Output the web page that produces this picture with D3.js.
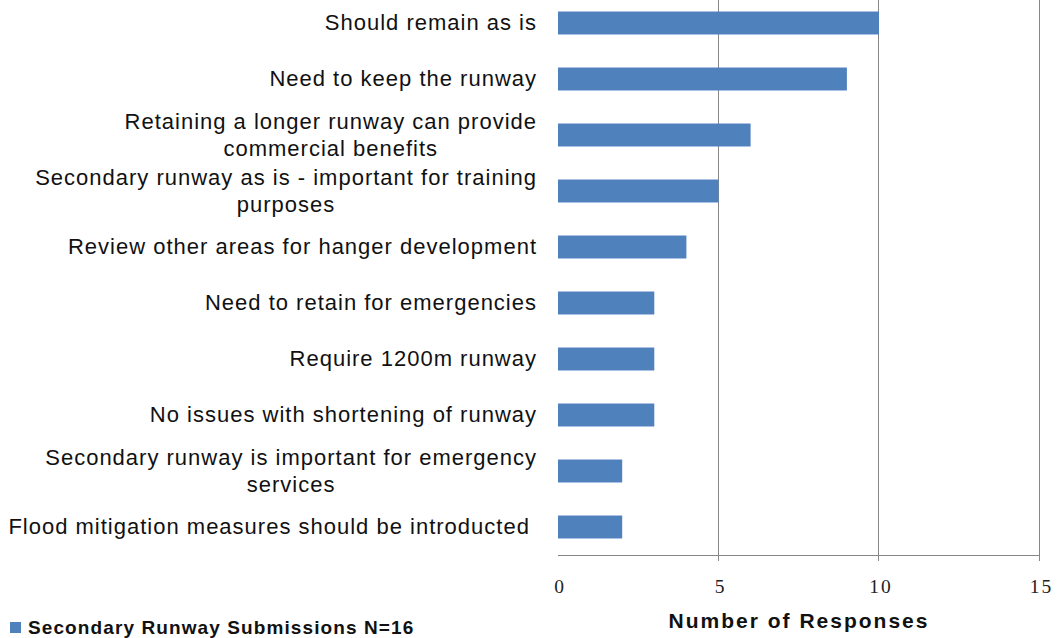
<!DOCTYPE html>
<html>
<head>
<meta charset="utf-8">
<script src="https://cdn.jsdelivr.net/npm/d3@7"></script>
<style>
  html, body { margin: 0; padding: 0; background: #fff; }
  svg { display: block; font-family: "Liberation Sans", Arial, sans-serif; }
</style>
</head>
<body>
<svg id="chart" width="1057" height="638"></svg>
<script>
// Response categories (top to bottom) and their counts
const categories = [
  "Should remain as is",
  "Need to keep the runway",
  "Retaining a longer runway can provide|commercial benefits",
  "Secondary runway as is - important for training|purposes",
  "Review other areas for hanger development",
  "Need to retain for emergencies",
  "Require 1200m runway",
  "No issues with shortening of runway",
  "Secondary runway is important for emergency|services",
  "Flood mitigation measures should be introducted "
];
const responses = [10, 9, 6, 5, 4, 3, 3, 3, 2, 2];
const xTicks = [0, 5, 10, 15];
const seriesName = "Secondary Runway Submissions N=16";
const axisTitle = "Number of Responses";

const svg = d3.select("#chart");
const plot = { left: 558, right: 1039.5, top: -5, bottom: 555 };

const x = d3.scaleLinear().domain([0, 15]).range([plot.left, plot.right]);
const y = d3.scaleBand().domain(categories).range([plot.top, plot.bottom]).paddingInner(0.59).paddingOuter(0.295);

// vertical gridlines
svg.append("g").selectAll("line").data(xTicks.filter(d => d > 0)).join("line")
  .attr("x1", d => Math.round(x(d)) - 0.5).attr("x2", d => Math.round(x(d)) - 0.5)
  .attr("y1", 0).attr("y2", plot.bottom + 6)
  .attr("stroke", "#878787").attr("stroke-width", 1);

// bars
svg.append("g").selectAll("rect").data(categories).join("rect")
  .attr("x", x(0))
  .attr("y", d => y(d))
  .attr("width", (d, i) => x(responses[i]) - x(0))
  .attr("height", y.bandwidth())
  .attr("fill", "#4F81BD");

// x axis line
svg.append("line")
  .attr("x1", x(0)).attr("x2", plot.right)
  .attr("y1", plot.bottom + 0.5).attr("y2", plot.bottom + 0.5)
  .attr("stroke", "#878787");

// tick labels
svg.append("g").selectAll("text").data(xTicks).join("text")
  .attr("x", d => x(d) + 2)
  .attr("y", 593)
  .attr("text-anchor", "middle")
  .attr("font-family", "'Liberation Serif', 'Times New Roman', serif")
  .attr("font-size", 19.5)
  .attr("letter-spacing", 2)
  .attr("fill", "#222")
  .text(d => d);

// axis title
svg.append("text")
  .attr("x", 799).attr("y", 628)
  .attr("text-anchor", "middle")
  .attr("font-size", 21).attr("font-weight", "bold")
  .attr("letter-spacing", 2)
  .attr("fill", "#111")
  .text(axisTitle);

// category labels, right-aligned block with centered lines
const labelRight = 537;
const lineH = 27;
const lab = svg.append("g").attr("font-size", 22).attr("letter-spacing", 1).attr("fill", "#111");
categories.forEach(c => {
  const lines = c.split("|");
  const cy = y(c) + y.bandwidth() / 2;
  const t = lab.append("text").attr("text-anchor", "middle").attr("xml:space", "preserve");
  lines.forEach((ln, k) => {
    t.append("tspan").attr("x", 0)
      .attr("y", cy + (k - (lines.length - 1) / 2) * lineH + 7)
      .text(ln);
  });
  const w = t.node().getBBox().width;
  t.attr("transform", `translate(${labelRight - w / 2},0)`);
});

// legend
svg.append("rect").attr("x", 10).attr("y", 622).attr("width", 11).attr("height", 11).attr("fill", "#4F81BD");
svg.append("text").attr("x", 28).attr("y", 634)
  .attr("font-size", 19).attr("font-weight", "bold").attr("letter-spacing", 1.1).attr("fill", "#111")
  .text(seriesName);
</script>
</body>
</html>
